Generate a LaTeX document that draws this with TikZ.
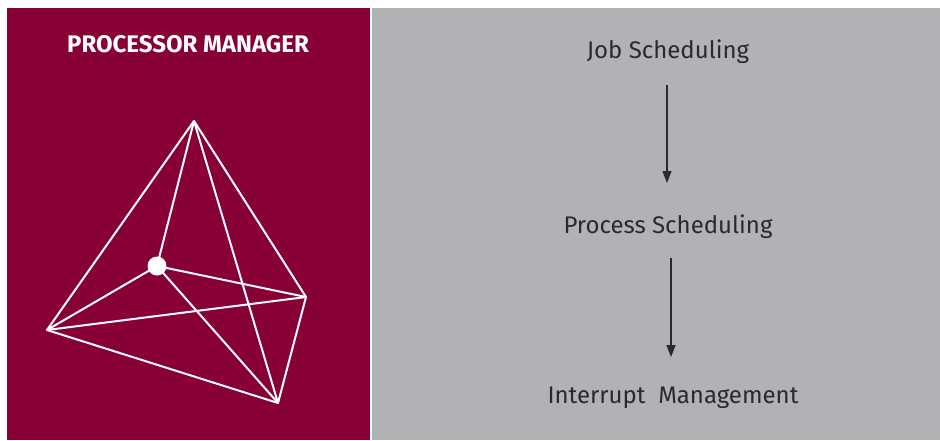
\documentclass[tikz,border=0pt]{standalone}
\usepackage{fontspec}
\setmainfont{Fira Sans}
\usetikzlibrary{arrows.meta}
\definecolor{maroon}{HTML}{870036}
\definecolor{panelgray}{HTML}{B1B2B6}
\definecolor{ink}{HTML}{2A2A2A}
\begin{document}
\begin{tikzpicture}[x=1pt,y=-1pt,
  edge/.style={white,line width=2pt,line join=round},
  steptext/.style={text=ink,font=\fontsize{24}{28}\selectfont,inner sep=0pt,anchor=base},
  flow/.style={ink,line width=1.4pt,-{Triangle[width=9pt,length=12pt]}}]
  \useasboundingbox (0,0) rectangle (940,440);
  \fill[white] (0,0) rectangle (940,440);
  % left panel
  \fill[maroon] (7,8) rectangle (370,440);
  % right panel
  \fill[panelgray] (372,8) rectangle (940,440);
  \node[text=white,font=\bfseries\fontsize{24}{28}\selectfont,inner sep=0pt,anchor=base] (title) at (188,52) {PROCESSOR MANAGER};
  % tetrahedron
  \coordinate (top) at (194,121);
  \coordinate (lft) at (47,330);
  \coordinate (rgt) at (306,297);
  \coordinate (bot) at (278,403);
  \coordinate (inn) at (157,266);
  \draw[edge] (top) -- (lft) -- (bot) -- (rgt) -- cycle;
  \draw[edge] (top) -- (bot);
  \draw[edge] (lft) -- (rgt);
  \draw[edge] (top) -- (inn);
  \draw[edge] (inn) -- (lft);
  \draw[edge] (inn) -- (rgt);
  \draw[edge] (inn) -- (bot);
  \fill[white] (inn) circle (9.5);
  % steps
  \node[steptext] (job) at (668,58) {Job Scheduling};
  \node[steptext] (proc) at (668,233) {Process Scheduling};
  \node[steptext] (intr) at (673,403) {Interrupt\ \ Management};
  \coordinate (a1s) at (667,85);
  \coordinate (a1e) at (667,183);
  \coordinate (a2s) at (671,258);
  \coordinate (a2e) at (671,357);
  \draw[flow] (a1s) -- (a1e);
  \draw[flow] (a2s) -- (a2e);
\end{tikzpicture}
\end{document}
